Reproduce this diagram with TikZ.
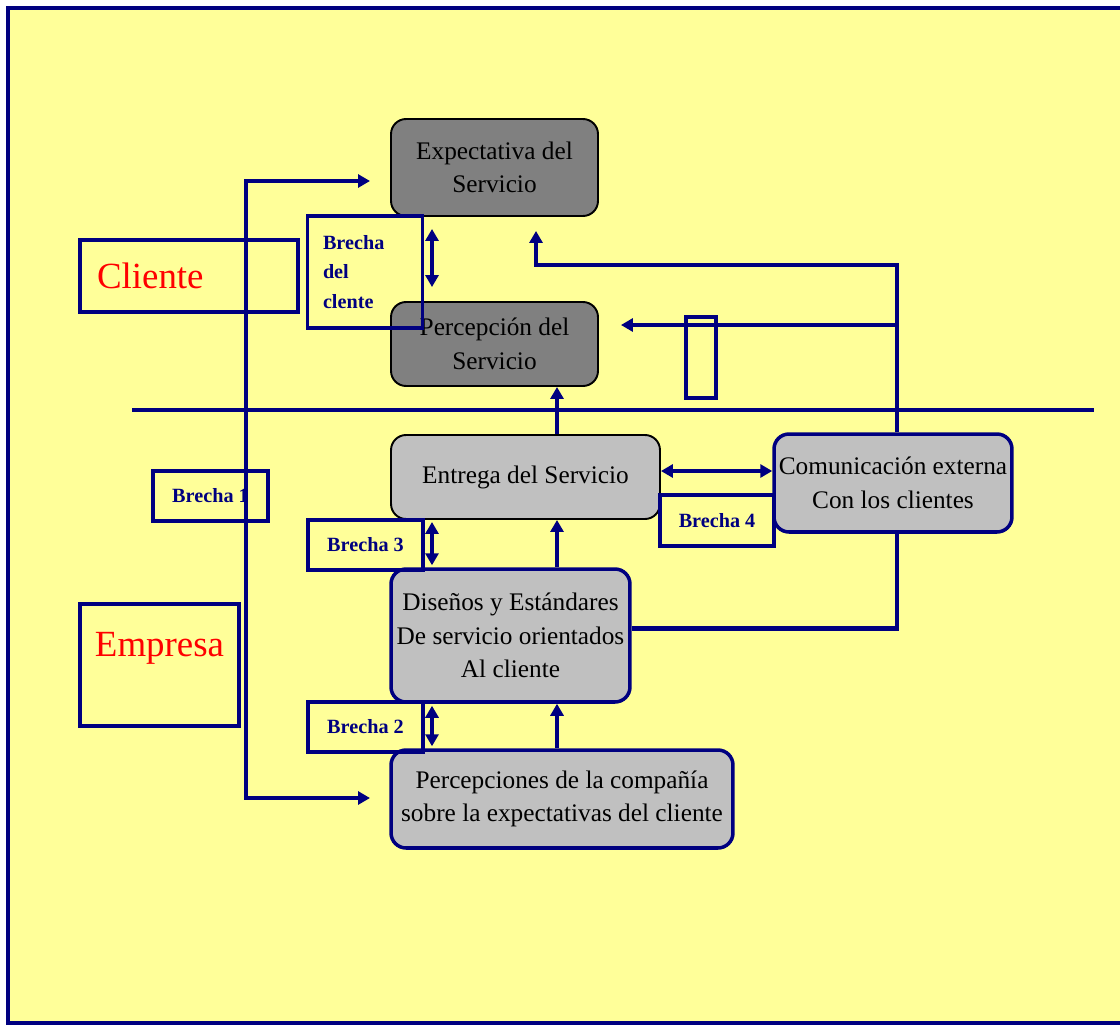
\documentclass[tikz,border=0pt]{standalone}
\usepackage{fontspec}
\setmainfont{Liberation Serif}
\usetikzlibrary{arrows.meta}
\definecolor{amarillo}{HTML}{FFFF99}
\definecolor{azul}{HTML}{000080}
\definecolor{grisoscuro}{HTML}{808080}
\definecolor{grisclaro}{HTML}{C0C0C0}

\begin{document}
\begin{tikzpicture}[x=0.02cm,y=-0.02cm,
    caja/.style={rounded corners=0.3cm, line width=1.1pt, align=center, inner sep=0pt,
      font=\fontsize{14.4}{19}\selectfont},
    oscura/.style={caja, draw=black, fill=grisoscuro},
    clara/.style={caja, draw=black, fill=grisclaro},
    claraazul/.style={caja, draw=azul, line width=2pt, fill=grisclaro},
    brecha/.style={draw=azul, line width=2pt, text=azul, inner sep=0pt,
      minimum width=2.3cm, minimum height=1cm,
      font=\bfseries\fontsize{11.5}{17}\selectfont},
    lado/.style={draw=azul, line width=2.2pt, text=red, inner sep=0pt,
      font=\fontsize{21}{25}\selectfont},
    linea/.style={azul, line width=2.3pt},
    flecha/.style={linea, -{Triangle[length=0.24cm,width=0.26cm]}},
    doble/.style={linea, {Triangle[length=0.24cm,width=0.26cm]}-{Triangle[length=0.24cm,width=0.26cm]}}]
    \useasboundingbox (0,0) rectangle (1120,1025);

    % Draw the background and frame
    \fill[amarillo] (6,7) rectangle (1120,1025);
    \draw[azul, line width=2.3pt] (1120,8) -- (8,8) -- (8,1023) -- (1120,1023);

    % Customer side
    \node[oscura, minimum width=4.14cm, minimum height=1.94cm] (expect) at (494.5,167.5)
      {Expectativa del\\Servicio};
    \node[oscura, minimum width=4.14cm, minimum height=1.68cm] (percep) at (494.5,344)
      {Percepción del\\Servicio};

    % Company side
    \node[clara, minimum width=5.38cm, minimum height=1.68cm] (entrega) at (525.5,477)
      {Entrega del Servicio};
    \node[claraazul, minimum width=4.76cm, minimum height=1.96cm] (comunic) at (893,483)
      {Comunicación externa\\Con los clientes};
    \node[claraazul, minimum width=4.78cm, minimum height=2.66cm] (disenos) at (510.5,635.5)
      {Diseños y Estándares\\De servicio orientados\\Al cliente};
    \node[claraazul, minimum width=6.84cm, minimum height=1.96cm] (percias) at (562,799)
      {Percepciones de la compañía\\sobre la expectativas del cliente};

    % Side labels
    \node[lado, minimum height=1.44cm, inner xsep=0.34cm, text width=3.68cm, align=left]
      (cliente) at (189,276) {Cliente};
    \node[lado, minimum width=3.18cm, inner ysep=0.2cm, text height=0.84cm, text depth=1.2cm]
      (empresa) at (159.5,665) {Empresa};

    % Gaps
    \node[brecha, inner xsep=0.3cm, text width=1.68cm, minimum height=2.24cm, align=left]
      (brechac) at (365,272) {Brecha\\del\\clente};
    \node[brecha] (brecha1) at (210.5,496) {Brecha 1};
    \node[brecha] (brecha3) at (365.5,545) {Brecha 3};
    \node[brecha] (brecha2) at (365.5,727) {Brecha 2};
    \node[brecha, minimum width=2.28cm, minimum height=1.02cm] (brecha4) at (717,520.5) {Brecha 4};
    \node[draw=azul, line width=2pt, minimum width=0.6cm, minimum height=1.62cm] (marco) at (701,357.5) {};

    % Helper points
    \coordinate (eje) at (432,0);
    \coordinate (eje2) at (557,0);
    \coordinate (eje3) at (897,0);
    \coordinate (bus1) at (246,181);
    \coordinate (bus2) at (246,798);
    \coordinate (finexp) at (370,181);
    \coordinate (finper) at (370,798);
    \coordinate (codo) at (897,265);
    \coordinate (codo2) at (536,265);
    \coordinate (toque) at (897,325);
    \coordinate (enlace) at (717,471);

    % Separator between customer and company
    \draw[linea] (132,410) -- (1094,410);

    % Gap 1 loop
    \draw[doble] (finexp) -- (bus1) -- (bus2) -- (finper);

    % Double arrows for the gaps
    \draw[doble, shorten <=0.24cm, shorten >=0.28cm] (expect.south -| eje) -- (percep.north -| eje);
    \draw[doble, shorten <=0.04cm, shorten >=0.04cm] (entrega.south -| eje) -- (disenos.north -| eje);
    \draw[doble, shorten <=0.04cm, shorten >=0.04cm] (disenos.south -| eje) -- (percias.north -| eje);
    \draw[doble] (entrega.east |- enlace) -- (comunic.west |- enlace);

    % Upward flow
    \draw[flecha] (percias.north -| eje2) -- (disenos.south -| eje2);
    \draw[flecha] (disenos.north -| eje2) -- (entrega.south -| eje2);
    \draw[flecha] (entrega.north -| eje2) -- (percep.south -| eje2);

    % External communication
    \draw[linea] ([yshift=0.14cm]disenos.east) -| (comunic.south -| eje3);
    \draw[flecha, shorten >=0.28cm] (comunic.north -| eje3) -- (codo) -- (codo2) -- (expect.south -| codo2);
    \draw[flecha, shorten >=0.44cm] (toque) -- (percep.east |- toque);
\end{tikzpicture}
\end{document}
